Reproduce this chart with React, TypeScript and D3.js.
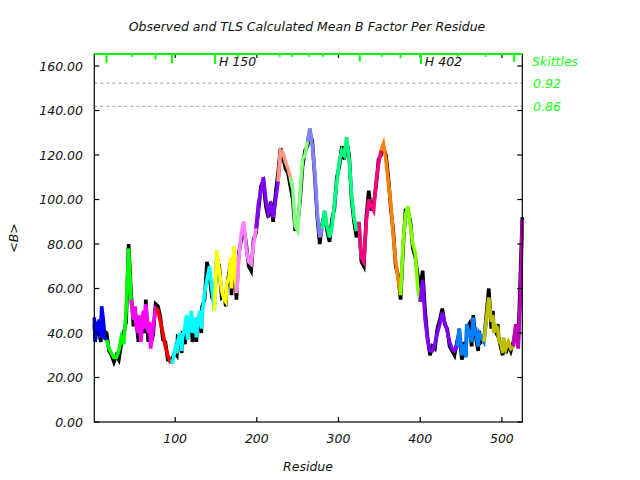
import React from "react";
import * as d3 from "d3";

// Residues sampled along the chain
const residues: number[] = [
  1, 2, 4, 7, 9, 10, 12, 13, 16, 19,
  22, 25, 28, 31, 34, 37, 40, 43, 46, 49,
  51, 52, 55, 57, 58, 61, 63, 64, 67, 69,
  70, 73, 76, 79, 82, 85, 88, 91, 94, 97,
  100, 102, 103, 106, 108, 109, 112, 114, 115, 118,
  120, 121, 124, 126, 127, 130, 132, 133, 136, 139,
  142, 145, 148, 151, 154, 157, 160, 162, 163, 166,
  168, 169, 172, 175, 178, 181, 184, 187, 190, 193,
  196, 199, 202, 205, 208, 211, 214, 217, 220, 223,
  226, 229, 232, 235, 238, 241, 244, 247, 250, 253,
  256, 259, 262, 265, 268, 271, 274, 277, 280, 283,
  286, 289, 292, 295, 298, 301, 304, 307, 310, 313,
  316, 319, 322, 325, 328, 331, 334, 337, 340, 343,
  346, 349, 352, 355, 358, 361, 364, 367, 370, 373,
  376, 379, 382, 385, 388, 391, 394, 397, 400, 403,
  406, 409, 412, 415, 418, 421, 424, 427, 430, 433,
  436, 439, 442, 445, 448, 451, 454, 456, 457, 460,
  463, 465, 466, 469, 471, 472, 475, 478, 481, 484,
  487, 489, 490, 493, 495, 496, 499, 501, 502, 505,
  508, 511, 514, 517, 520, 523, 525,
];

// Observed mean B per residue (black)
const observedB: number[] = [
  44, 38, 45, 40, 36, 48, 45, 41, 40, 32,
  30, 27, 30, 28, 35, 40, 45, 80, 58, 43,
  50, 47, 36, 45, 38, 46, 40, 55, 36, 44,
  35, 39, 53, 52, 47, 37, 36, 28, 28, 29,
  31, 30, 38, 37, 31, 41, 35, 46, 40, 43,
  48, 36, 44, 36, 46, 47, 40, 52, 55, 72,
  66, 56, 54, 74, 70, 56, 57, 52, 60, 67,
  72, 57, 76, 55, 76, 82, 87, 80, 70, 68,
  82, 85, 95, 106, 108, 97, 92, 99, 90, 103,
  112, 123, 119, 114, 112, 106, 100, 86, 89, 100,
  115, 122, 124, 130, 126, 110, 92, 80, 89, 94,
  86, 81, 91, 96, 110, 115, 124, 118, 126, 120,
  100, 90, 83, 88, 72, 70, 92, 104, 95, 98,
  106, 118, 120, 123, 120, 110, 96, 86, 70, 66,
  55, 78, 95, 95, 90, 78, 74, 66, 60, 68,
  50, 38, 30, 34, 33, 42, 46, 51, 44, 42,
  34, 32, 30, 36, 40, 28, 36, 30, 42, 44,
  34, 48, 44, 36, 32, 41, 36, 37, 48, 60,
  42, 50, 42, 40, 44, 38, 33, 30, 36, 31,
  35, 32, 36, 42, 35, 70, 92,
];

// TLS calculated mean B per residue (coloured by TLS group)
const calculatedB: number[] = [
  47, 36, 41, 46, 38, 52, 46, 38, 37, 33,
  31, 29, 29, 32, 38, 35, 50, 78, 55, 46,
  52, 44, 40, 48, 36, 50, 42, 53, 40, 45,
  33, 42, 51, 50, 45, 40, 34, 30, 27, 27,
  33, 31, 36, 40, 32, 38, 43, 48, 37, 46,
  50, 40, 47, 38, 43, 50, 42, 48, 58, 64,
  70, 60, 50, 77, 68, 59, 55, 54, 62, 65,
  74, 60, 79, 58, 74, 85, 90, 78, 72, 71,
  80, 87, 98, 104, 110, 100, 94, 97, 92, 100,
  108, 122, 121, 117, 114, 110, 105, 88, 86, 103,
  118, 120, 126, 132, 124, 112, 94, 83, 87, 95,
  88, 83, 88, 98, 108, 117, 122, 120, 128, 118,
  102, 92, 86, 90, 74, 72, 90, 100, 97, 95,
  108, 116, 122, 125, 118, 108, 98, 84, 72, 64,
  57, 80, 93, 97, 88, 80, 76, 60, 54, 64,
  46, 37, 32, 32, 35, 40, 44, 49, 45, 41,
  36, 33, 32, 34, 42, 30, 35, 29, 44, 40,
  36, 47, 42, 38, 34, 40, 38, 36, 46, 56,
  45, 48, 40, 43, 42, 37, 35, 31, 38, 33,
  36, 33, 34, 44, 33, 60, 91,
];

// TLS group boundaries (first residue of each group) and colours
const groupStarts: number[] = [1, 16, 48, 77, 96, 149, 177, 200, 228, 243, 264, 281, 326, 352, 376, 400, 446, 480, 515, 525];
const groupColors: string[] = [
  "#0000ff", "#00ff00", "#ff00ff", "#ff0000", "#00ffff", "#ffff00", "#ff80ff", "#8000ff",
  "#ff9980", "#80ff80", "#8080ff", "#00ff80", "#ff0080", "#ff8000", "#80ff00", "#8000ff",
  "#0080ff", "#bfbf00", "#c000c0",
];

// Skittle marks along the top (residue, relative score)
const skittleResidues: number[] = [16, 47, 76, 96, 149, 177, 228, 243, 264, 281, 326, 353, 376, 401, 446, 480, 515];
const skittleScores: number[] = [0.9, 0.15, 0.45, 0.9, 1.0, 0.25, 0.15, 0.15, 0.15, 0.15, 0.7, 0.15, 0.3, 1.0, 0.15, 0.15, 0.75];

const helixLabels: string[] = ["H 150", "H 402"];
const helixResidues: number[] = [150, 402];

const thresholdLabels: string[] = ["0.92", "0.86"];
const thresholdValues: number[] = [152.3, 141.9];

const yTicks: number[] = [0, 20, 40, 60, 80, 100, 120, 140, 160];
const xTicks: number[] = [100, 200, 300, 400, 500];

const W = 640;
const H = 480;
const left = 94.3;
const right = 522.3;
const top = 54;
const bottom = 422;
const FONT = "'DejaVu Sans', sans-serif";
const GREEN = "#22ff22";

type P = { r: number; obs: number; calc: number };

export default function App() {
  const x = d3.scaleLinear().domain([1, 525]).range([left, right]);
  const y = d3.scaleLinear().domain([0, 165.4]).range([bottom, top]);
  const sk = d3.scaleLinear().domain([0, 1]).range([1.5, 10]);

  const pts: P[] = residues.map((r, i) => ({ r, obs: observedB[i], calc: calculatedB[i] }));
  const obsLine = d3.line<P>().x((d) => x(d.r)).y((d) => y(d.obs));
  const calcLine = d3.line<P>().x((d) => x(d.r)).y((d) => y(d.calc));

  const segments = groupColors.map((color, gi) => {
    const s = groupStarts[gi];
    const e = groupStarts[gi + 1];
    let i0 = 0;
    for (let i = 0; i < pts.length; i++) if (pts[i].r <= s) i0 = i;
    let i1 = pts.length - 1;
    for (let i = pts.length - 1; i >= 0; i--) if (pts[i].r >= e) i1 = i;
    return { color, data: pts.slice(i0, i1 + 1) };
  });

  return (
    <svg
      width={W}
      height={H}
      style={{ position: "absolute", left: 0, top: 0, background: "#fff" }}
      fontFamily={FONT}
    >
      <rect x={0} y={0} width={W} height={H} fill="#fff" />
      <text x={307} y={31} textAnchor="middle" fontSize={12.5} fontStyle="italic" fill="#111">
        Observed and TLS Calculated Mean B Factor Per Residue
      </text>

      {thresholdValues.map((v, i) => (
        <line key={"th" + i} x1={left} x2={right} y1={y(v)} y2={y(v)} stroke="#999" strokeDasharray="3,3" strokeWidth={1} />
      ))}

      <path d={obsLine(pts) || ""} fill="none" stroke="#000" strokeWidth={3.6} />
      {segments.map((s, i) => (
        <path key={"seg" + i} d={calcLine(s.data) || ""} fill="none" stroke={s.color} strokeWidth={3.6} />
      ))}

      <rect x={left} y={top} width={right - left} height={bottom - top} fill="none" stroke="#000" strokeWidth={1.2} />

      {yTicks.map((t) => (
        <g key={"yt" + t}>
          <line x1={left} x2={left + 5} y1={y(t)} y2={y(t)} stroke="#000" strokeWidth={1.2} />
          <line x1={right - 5} x2={right} y1={y(t)} y2={y(t)} stroke="#000" strokeWidth={1.2} />
          <text x={83} y={y(t)} dy="0.36em" textAnchor="end" fontSize={12.5} fontStyle="italic" fill="#111">
            {t.toFixed(2)}
          </text>
        </g>
      ))}

      {xTicks.map((t) => (
        <g key={"xt" + t}>
          <line x1={x(t)} x2={x(t)} y1={bottom} y2={bottom - 5} stroke="#000" strokeWidth={1.2} />
          <line x1={x(t)} x2={x(t)} y1={top} y2={top + 4} stroke="#000" strokeWidth={1.2} />
          <text x={x(t)} y={443} textAnchor="middle" fontSize={12.5} fontStyle="italic" fill="#111">
            {t}
          </text>
        </g>
      ))}

      <line x1={left} x2={right} y1={top} y2={top} stroke="#00ff00" strokeWidth={2} />
      {skittleResidues.map((r, i) => (
        <rect key={"sk" + i} x={x(r) - 1} y={top} width={2} height={sk(skittleScores[i])} fill="#00ff00" />
      ))}
      {helixResidues.map((r, i) => (
        <text key={"hl" + i} x={x(r) + 3} y={66} fontSize={12.5} fontStyle="italic" fill="#111">
          {helixLabels[i]}
        </text>
      ))}

      <text x={532} y={61} dy="0.36em" fontSize={12.5} fontStyle="italic" fill={GREEN}>
        Skittles
      </text>
      {thresholdValues.map((v, i) => (
        <text key={"tl" + i} x={533} y={y(v)} dy="0.36em" fontSize={12.5} fontStyle="italic" fill={GREEN}>
          {thresholdLabels[i]}
        </text>
      ))}

      <text x={308} y={471} textAnchor="middle" fontSize={12.5} fontStyle="italic" fill="#111">
        Residue
      </text>
      <text transform={`translate(18,238) rotate(-90)`} textAnchor="middle" fontSize={12.5} fontStyle="italic" fill="#111">
        {"<B>"}
      </text>
    </svg>
  );
}
